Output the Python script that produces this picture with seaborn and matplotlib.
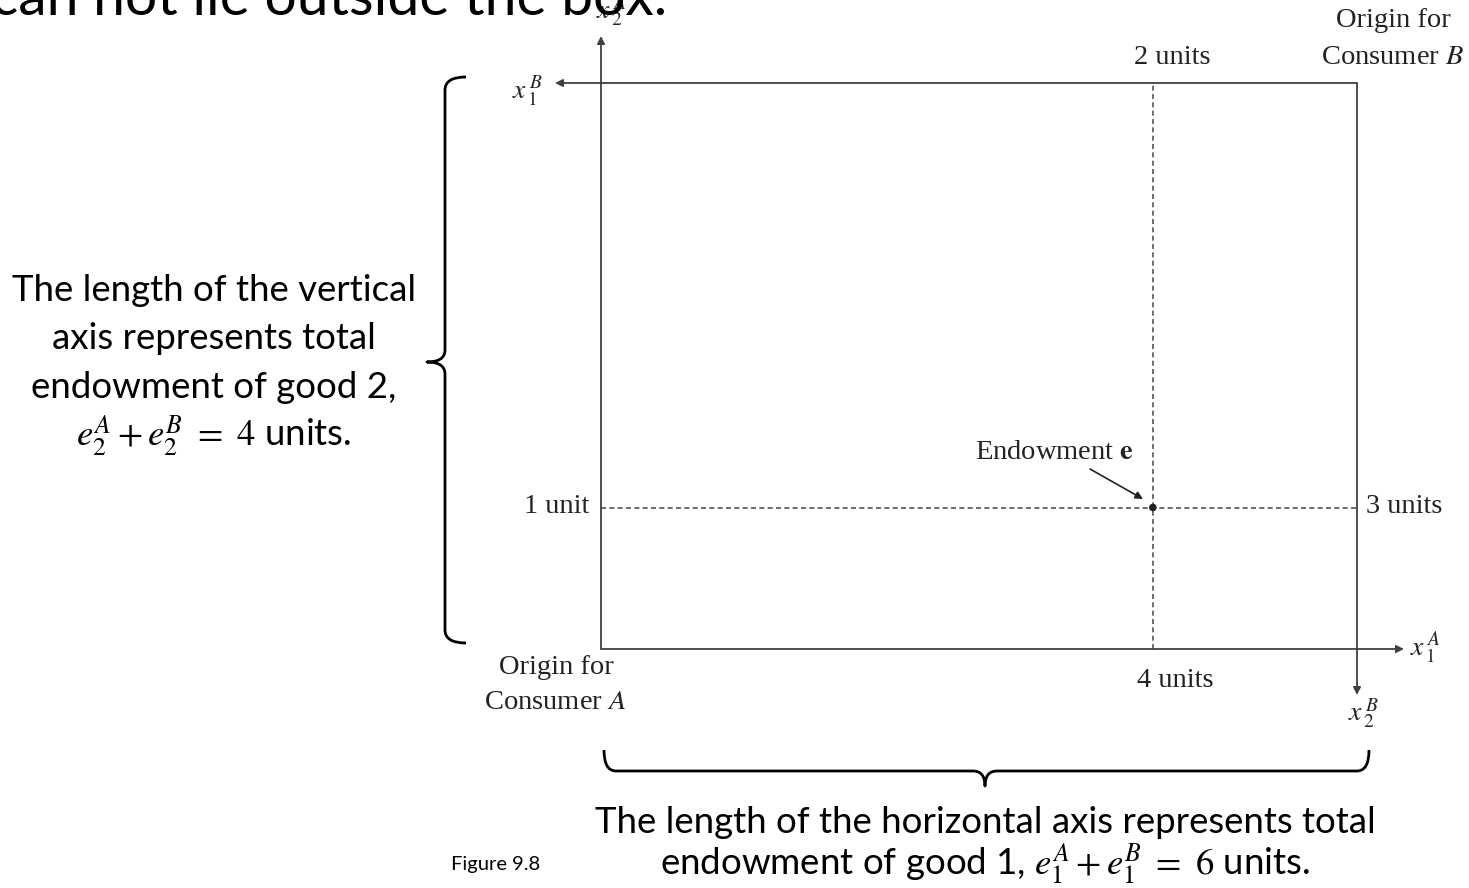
import numpy as np
import pandas as pd
import matplotlib
matplotlib.use('Agg')
import matplotlib.pyplot as plt
from matplotlib.path import Path
from matplotlib.patches import PathPatch
import seaborn as sns

# Edgeworth box: totals of each good, and the endowment point as drawn
box_w = 6          # e1A + e1B
box_h = 4          # e2A + e2B
endow_x = [4.38]   # where the dashed vertical sits in the picture
endow_y = [1.0]
unit_labels = ['2 units', '1 unit', '3 units', '4 units']
left_note = ['The length of the vertical', 'axis represents total',
             'endowment of good 2,', r'$e_2^A + e_2^B\ =\ 4$ units.']
bottom_note = ['The length of the horizontal axis represents total',
               r'endowment of good 1, $e_1^A + e_1^B\ =\ 6$ units.']

sns.set_theme(style='white')
plt.rcParams['mathtext.fontset'] = 'stix'
serif = 'Liberation Serif'
sans = 'Lato'

W, H = 1469, 888
fig = plt.figure(figsize=(W / 100, H / 100), dpi=100)
ax = fig.add_axes([0, 0, 1, 1])

# pixel geometry of the box -> data scale
x0_px, x1_px, y0_px, y1_px = 601, 1357, 649, 83
sx = (x1_px - x0_px) / box_w
sy = (y0_px - y1_px) / box_h
ax.set_xlim(-x0_px / sx, (W - x0_px) / sx)
ax.set_ylim((y0_px - H) / sy, y0_px / sy)
ax.axis('off')


def P(px, py):
    return ((px - x0_px) / sx, (y0_px - py) / sy)


line_c = '#404040'
arrow_kw = dict(arrowstyle='-|>', color=line_c, lw=1.3, mutation_scale=11,
                shrinkA=0, shrinkB=0)

# axes of consumer A and B (arrows)
ax.annotate('', xy=P(601, 36), xytext=(0, 0), arrowprops=arrow_kw)
ax.annotate('', xy=P(1404, 649), xytext=(0, 0), arrowprops=arrow_kw)
ax.annotate('', xy=P(555, 83), xytext=(box_w, box_h), arrowprops=arrow_kw)
ax.annotate('', xy=P(1357, 695), xytext=(box_w, box_h), arrowprops=arrow_kw)

# dashed lines through the endowment
dash_v = pd.DataFrame({'x': [endow_x[0], endow_x[0]], 'y': [0, box_h]})
dash_h = pd.DataFrame({'x': [0, box_w], 'y': [endow_y[0], endow_y[0]]})
for d in (dash_v, dash_h):
    sns.lineplot(data=d, x='x', y='y', ax=ax, color='#555555', lw=1.2,
                 linestyle=(0, (3, 2)), sort=False, estimator=None)
sns.scatterplot(x=endow_x, y=endow_y, ax=ax, color='#222222', s=30, zorder=5,
                edgecolor='none')

# endowment pointer
ax.annotate('', xy=P(1143, 499), xytext=P(1090, 469),
            arrowprops=dict(arrowstyle='-|>', color='#222222', lw=1.2,
                            mutation_scale=11, shrinkA=0, shrinkB=0))
ax.text(*P(1054, 452), r'Endowment $\mathbf{e}$', family=serif, fontsize=20.5,
        ha='center', va='center', color='#222222')

# unit labels
tk = dict(family=serif, fontsize=20.5, color='#222222', va='center')
ax.text(*P(1172, 57), unit_labels[0], ha='center', **tk)
ax.text(*P(589, 506), unit_labels[1], ha='right', **tk)
ax.text(*P(1366, 506), unit_labels[2], ha='left', **tk)
ax.text(*P(1175, 680), unit_labels[3], ha='center', **tk)

# origins
ax.text(*P(1393, 20), 'Origin for', ha='center', **tk)
ax.text(*P(1393, 57), 'Consumer $B$', ha='center', **tk)
ax.text(*P(556, 667), 'Origin for', ha='center', **tk)
ax.text(*P(555, 702), 'Consumer $A$', ha='center', **tk)

# axis variable labels
lk = dict(fontsize=20, color='#222222', ha='left', va='baseline')
ax.text(*P(596, 19), r'$x_{\,2}^{\,A}$', **lk)
ax.text(*P(512, 98), r'$x_{\,1}^{\,B}$', **lk)
ax.text(*P(1410, 655), r'$x_{\,1}^{\,A}$', **lk)
ax.text(*P(1348, 721), r'$x_{\,2}^{\,B}$', **lk)


# braces
def draw_brace(pts):
    C3, L = Path.CURVE3, Path.LINETO
    codes = [Path.MOVETO, C3, C3, L, C3, C3, C3, C3, L, C3, C3]
    verts = [P(*p) for p in pts]
    ax.add_patch(PathPatch(Path(verts, codes), fill=False, lw=2.0, color='black',
                           capstyle='butt', joinstyle='round'))


draw_brace([(466, 77), (445, 77), (445, 90), (445, 350), (445, 362), (427, 362),
            (445, 362), (445, 374), (445, 630), (445, 643), (466, 643)])
draw_brace([(604, 750), (604, 771), (616, 771), (973, 771), (985, 771), (985, 786),
            (985, 771), (997, 771), (1357, 771), (1369, 771), (1369, 750)])

# explanatory text
sk = dict(family=sans, fontsize=26.4, color='black', ha='center', va='center')
for txt, yy in zip(left_note, [290, 338, 387, 436]):
    ax.text(*P(214, yy), txt, **sk)
for txt, yy in zip(bottom_note, [822, 864]):
    ax.text(*P(985, yy), txt, **sk)
ax.text(*P(496, 864), 'Figure 9.8', family=sans, fontsize=14.5, color='black',
        ha='center', va='center')

# cut-off heading from the slide
ax.text(*P(667, 15), 'can not lie outside the box.', family=sans, fontsize=41,
        color='black', ha='right', va='baseline')

fig.savefig('out.png', dpi=100)
